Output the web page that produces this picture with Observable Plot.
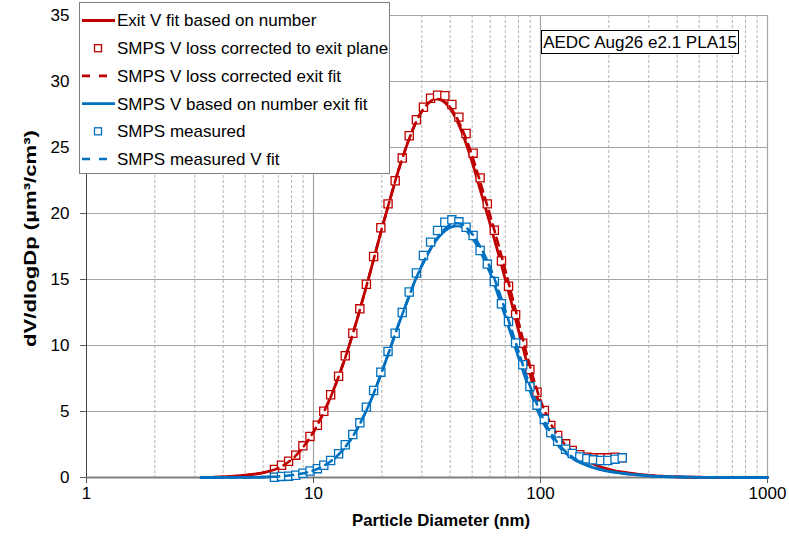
<!DOCTYPE html>
<html><head><meta charset="utf-8">
<script src="https://cdn.jsdelivr.net/npm/d3@7"></script>
<script src="https://cdn.jsdelivr.net/npm/@observablehq/plot@0.6"></script>
<style>
html,body{margin:0;padding:0;background:#fff;}
#chart{position:relative;width:789px;height:538px;}
</style></head><body><div id="chart"></div>
<script>
// ---- SMPS channel diameters (nm) and measured points ----
const smpsD = [6.73, 7.23, 7.77, 8.35, 8.98, 9.65, 10.4, 11.1, 11.9, 12.9, 13.8, 14.9, 16.0, 17.1, 18.4, 19.8, 21.3, 22.9, 24.6, 26.4, 28.4, 30.5, 32.8, 35.2, 37.9, 40.7, 43.7, 47.0, 50.5, 54.2, 58.3, 62.6, 67.3, 72.3, 77.7, 83.5, 89.8, 96.5, 104, 111, 119, 129, 138, 149, 160, 171, 184, 198, 213, 229];
const smpsLossCorrected = [0.61, 0.93, 1.23, 1.69, 2.40, 3.11, 3.96, 5.02, 6.27, 7.67, 9.22, 10.93, 12.78, 14.64, 16.74, 18.92, 20.73, 22.48, 24.20, 25.89, 27.10, 28.05, 28.73, 28.96, 28.92, 28.26, 27.30, 26.06, 24.57, 22.70, 20.73, 18.73, 16.40, 14.49, 12.33, 10.17, 8.18, 6.46, 5.08, 3.94, 3.18, 2.55, 2.05, 1.72, 1.54, 1.49, 1.49, 1.49, 1.54, 1.50];
const smpsMeasured = [0.02, 0.08, 0.10, 0.17, 0.32, 0.49, 0.67, 0.93, 1.29, 1.80, 2.48, 3.26, 4.14, 5.33, 6.59, 7.98, 9.55, 10.93, 12.50, 14.05, 15.49, 16.82, 17.83, 18.71, 19.34, 19.52, 19.37, 18.96, 18.33, 17.20, 16.17, 14.85, 13.16, 11.82, 10.20, 8.54, 6.89, 5.48, 4.40, 3.40, 2.75, 2.14, 1.82, 1.56, 1.42, 1.34, 1.29, 1.29, 1.39, 1.49];

// ---- fit curves ----
const fitD = [3.2, 4, 5, 6, 7, 8, 9, 10, 11, 12, 13, 14, 15, 16, 18, 20, 22, 24, 26, 28, 30, 32, 34, 36, 38, 40, 42, 45, 48, 51, 55, 60, 65, 70, 75, 80, 85, 90, 95, 100, 110, 120, 130, 140, 150, 160, 180, 200, 230, 260, 300, 350, 400, 500, 600, 800, 1000];
const exitFitNumber = [0.01, 0.05, 0.17, 0.36, 0.72, 1.35, 2.3, 3.45, 4.8, 6.25, 7.8, 9.4, 11.05, 12.7, 15.9, 18.85, 21.4, 23.6, 25.35, 26.75, 27.75, 28.35, 28.65, 28.65, 28.4, 27.95, 27.35, 26.2, 24.85, 23.4, 21.45, 19.2, 17.05, 15.0, 13.05, 11.15, 9.4, 7.8, 6.45, 5.4, 3.85, 2.9, 2.25, 1.8, 1.5, 1.25, 0.87, 0.6, 0.4, 0.27, 0.16, 0.09, 0.05, 0.02, 0.01, 0, 0];
const lossCorrectedFit = [0.01, 0.05, 0.17, 0.36, 0.72, 1.35, 2.3, 3.45, 4.8, 6.25, 7.8, 9.4, 11.05, 12.7, 15.9, 18.85, 21.4, 23.6, 25.35, 26.75, 27.75, 28.35, 28.65, 28.65, 28.45, 28.05, 27.5, 26.45, 25.25, 23.9, 22.05, 19.85, 17.75, 15.7, 13.7, 11.8, 10.0, 8.4, 7.0, 5.85, 4.2, 3.1, 2.4, 1.92, 1.58, 1.3, 0.9, 0.62, 0.4, 0.27, 0.16, 0.09, 0.05, 0.02, 0.01, 0, 0];
const smpsNumberExitFit = [0, 0.003, 0.01, 0.03, 0.08, 0.17, 0.32, 0.53, 0.85, 1.27, 1.8, 2.45, 3.2, 4.05, 5.95, 8.0, 10.0, 11.85, 13.45, 14.9, 16.05, 17.0, 17.75, 18.3, 18.7, 18.95, 19.05, 19.0, 18.55, 17.95, 16.95, 15.5, 13.85, 12.2, 10.6, 9.1, 7.75, 6.55, 5.5, 4.6, 3.3, 2.4, 1.8, 1.4, 1.12, 0.92, 0.64, 0.46, 0.31, 0.21, 0.13, 0.07, 0.04, 0.015, 0.005, 0, 0];
const smpsMeasuredFit = [0, 0.003, 0.01, 0.03, 0.08, 0.17, 0.32, 0.53, 0.85, 1.27, 1.8, 2.45, 3.2, 4.05, 5.95, 8.0, 10.0, 11.85, 13.45, 14.9, 16.05, 17.0, 17.8, 18.4, 18.85, 19.15, 19.25, 19.2, 18.8, 18.25, 17.3, 15.9, 14.3, 12.65, 11.05, 9.55, 8.15, 6.9, 5.85, 4.9, 3.5, 2.55, 1.9, 1.48, 1.18, 0.96, 0.66, 0.47, 0.32, 0.22, 0.13, 0.07, 0.04, 0.015, 0.005, 0, 0];

// ---- axes ----
const xMajor = [1, 10, 100, 1000];
const xMinor = [2, 3, 4, 5, 6, 7, 8, 9, 20, 30, 40, 50, 60, 70, 80, 90, 200, 300, 400, 500, 600, 700, 800, 900];
const yTicks = [0, 5, 10, 15, 20, 25, 30, 35];
const xTitle = "Particle Diameter (nm)";
const yTitle = "dV/dlogDp (\u00b5m\u00b3/cm\u00b3)";

// ---- legend ----
const legendLabels = ["Exit V fit based on number", "SMPS V loss corrected to exit plane", "SMPS V loss corrected exit fit", "SMPS V based on number exit fit", "SMPS measured", "SMPS measured V fit"];
const legendKinds = ["line", "square", "dash", "line", "square", "dash"];
const legendColors = ["#C00000", "#C00000", "#C00000", "#0070C0", "#0070C0", "#0070C0"];
const annotation = "AEDC Aug26 e2.1 PLA15";

const RED = "#C00000", BLUE = "#0070C0";
const FONT = "Arial, 'Liberation Sans', sans-serif";
const pts = (xs, ys) => xs.map((x, i) => ({x, y: ys[i]}));

const chart = Plot.plot({
  width: 789, height: 538,
  marginLeft: 86, marginRight: 22, marginTop: 15, marginBottom: 61,
  style: {fontFamily: FONT, fontSize: "17px", color: "#000", background: "#fff"},
  x: {type: "log", domain: [1, 1000]},
  y: {domain: [0, 35]},
  marks: [
    Plot.ruleX(xMinor, {stroke: "#b4b4b4", strokeDasharray: "3,2", strokeWidth: 1}),
    Plot.ruleY(yTicks.filter(d => d > 0), {stroke: "#a6a6a6", strokeWidth: 1.2}),
    Plot.ruleX(xMajor.filter(d => d > 1), {stroke: "#a6a6a6", strokeWidth: 1.2}),
    Plot.ruleX([1], {stroke: "#404040", strokeWidth: 1}),
    Plot.ruleY([0], {stroke: "#808080", strokeWidth: 1.8}),
    Plot.axisY({ticks: yTicks, tickSize: 6, tickPadding: 11, stroke: "#595959", fill: "#000", label: null, tickFormat: d => String(d)}),
    Plot.axisX({ticks: xMajor, tickSize: 6, tickPadding: 3, stroke: "#595959", fill: "#000", label: null, tickFormat: d => String(d)}),
    Plot.text([xTitle], {frameAnchor: "bottom", dx: 14, dy: 48, textAnchor: "middle", fontWeight: "bold", fontSize: 17, fill: "#000"}),
    Plot.text([yTitle], {frameAnchor: "left", dx: -56, dy: -8, rotate: -90, textAnchor: "middle", fontWeight: "bold", fontSize: 17, fill: "#000"}),
    // red series
    Plot.line(pts(fitD, exitFitNumber), {x: "x", y: "y", stroke: RED, strokeWidth: 2.8, curve: "catmull-rom"}),
    Plot.dot(pts(smpsD, smpsLossCorrected), {x: "x", y: "y", symbol: "square", r: 4.6, stroke: RED, fill: "#fff", strokeWidth: 1.3}),
    Plot.line(pts(fitD, lossCorrectedFit), {x: "x", y: "y", stroke: RED, strokeWidth: 2.6, strokeDasharray: "8,6", curve: "catmull-rom"}),
    // blue series
    Plot.line(pts(fitD, smpsNumberExitFit), {x: "x", y: "y", stroke: BLUE, strokeWidth: 2.8, curve: "catmull-rom"}),
    Plot.dot(pts(smpsD, smpsMeasured), {x: "x", y: "y", symbol: "square", r: 4.6, stroke: BLUE, fill: "#fff", strokeWidth: 1.3}),
    Plot.line(pts(fitD, smpsMeasuredFit), {x: "x", y: "y", stroke: BLUE, strokeWidth: 2.6, strokeDasharray: "8,6", curve: "catmull-rom"})
  ]
});
document.getElementById("chart").append(chart);

const svg = d3.select(chart);
// stretch the axis titles to the reference's lengths
svg.selectAll("text").filter(function() { return this.textContent === yTitle; })
  .attr("textLength", 217).attr("lengthAdjust", "spacingAndGlyphs");
svg.selectAll("text").filter(function() { return this.textContent === xTitle; })
  .attr("textLength", 178).attr("lengthAdjust", "spacingAndGlyphs");

// legend and annotation box drawn on top of the plot
const lg = svg.append("g").attr("font-size", 17).attr("font-family", FONT).attr("text-anchor", "start");
lg.append("rect").attr("x", 79.5).attr("y", 2.5).attr("width", 310).attr("height", 171)
  .attr("fill", "#fff").attr("stroke", "#7f7f7f").attr("stroke-width", 1);
legendLabels.forEach((label, i) => {
  const y = 20.5 + i * 27.7;
  const c = legendColors[i];
  if (legendKinds[i] === "line") {
    lg.append("line").attr("x1", 82).attr("x2", 115).attr("y1", y).attr("y2", y).attr("stroke", c).attr("stroke-width", 2.8);
  } else if (legendKinds[i] === "dash") {
    lg.append("line").attr("x1", 82).attr("x2", 115).attr("y1", y).attr("y2", y).attr("stroke", c).attr("stroke-width", 2.6).attr("stroke-dasharray", "8,9");
  } else {
    lg.append("rect").attr("x", 94.5).attr("y", y - 3.5).attr("width", 7).attr("height", 7).attr("fill", "#fff").attr("stroke", c).attr("stroke-width", 1.3);
  }
  lg.append("text").attr("x", 117).attr("y", y).attr("dy", "0.35em").attr("text-anchor", "start").attr("fill", "#000").text(label);
});
const an = svg.append("g").attr("font-size", 17).attr("font-family", FONT);
an.append("rect").attr("x", 541.5).attr("y", 30.5).attr("width", 197).attr("height", 23).attr("fill", "#fff").attr("stroke", "#000");
an.append("text").attr("x", 640).attr("y", 42).attr("dy", "0.35em").attr("text-anchor", "middle").attr("fill", "#000").text(annotation);
</script>
</body></html>
